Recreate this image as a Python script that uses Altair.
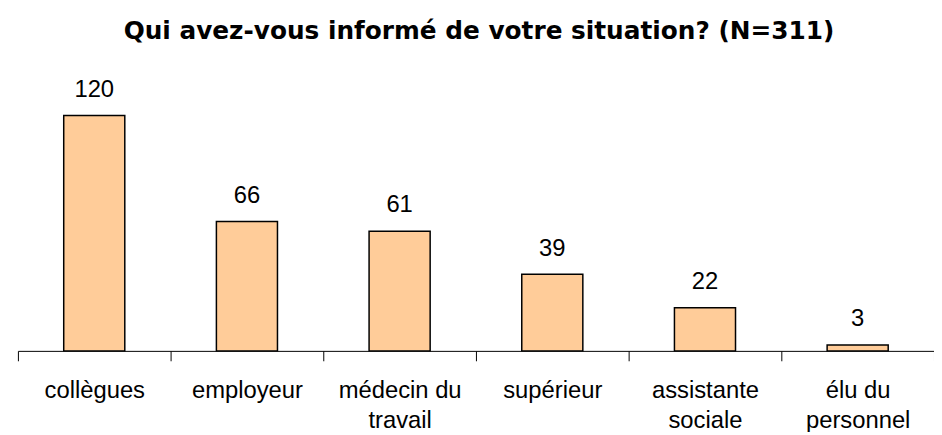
import altair as alt
import pandas as pd

categories = ["collègues", "employeur", "médecin du\ntravail", "supérieur",
              "assistante\nsociale", "élu du\npersonnel"]
values = [120, 66, 61, 39, 22, 3]
title_text = "Qui  avez-vous informé de votre situation? (N=311)"

df = pd.DataFrame({"cat": categories, "val": values})

FONT = "Liberation Sans"

x = alt.X("cat:N", sort=categories, title=None,
          scale=alt.Scale(paddingInner=0, paddingOuter=0),
          axis=alt.Axis(labelAngle=0, labelExpr="split(datum.label, '\\n')",
                        tickBand="extent", tickSize=10, tickColor="black",
                        domainColor="black", labelColor="black",
                        labelFont=FONT, labelFontSize=24, labelPadding=18,
                        labelLineHeight=30, labelBaseline="top"))
y = alt.Y("val:Q", scale=alt.Scale(domain=[0, 140], nice=False), axis=None)

bars = alt.Chart(df).mark_bar(color="#FFCC99", stroke="black", strokeWidth=1.5,
                              width=alt.RelativeBandSize(0.4)).encode(x=x, y=y)
labels = alt.Chart(df).mark_text(font=FONT, fontSize=24, color="black",
                                 baseline="bottom", dy=-14).encode(
    x=x, y=y, text="val:Q")

chart = (bars + labels).properties(
    width=924, height=277,
    autosize=alt.AutoSizeParams(type="none"),
    padding={"left": 10, "top": 67, "right": 0, "bottom": 80},
    title=alt.TitleParams(title_text, font="DejaVu Sans", fontSize=25,
                          fontWeight="bold", anchor="middle",
                          baseline="alphabetic", offset=13, dx=3,
                          color="black"),
).configure_view(stroke=None)

chart.save("out.html", embed_options={"renderer": "svg", "actions": False})
